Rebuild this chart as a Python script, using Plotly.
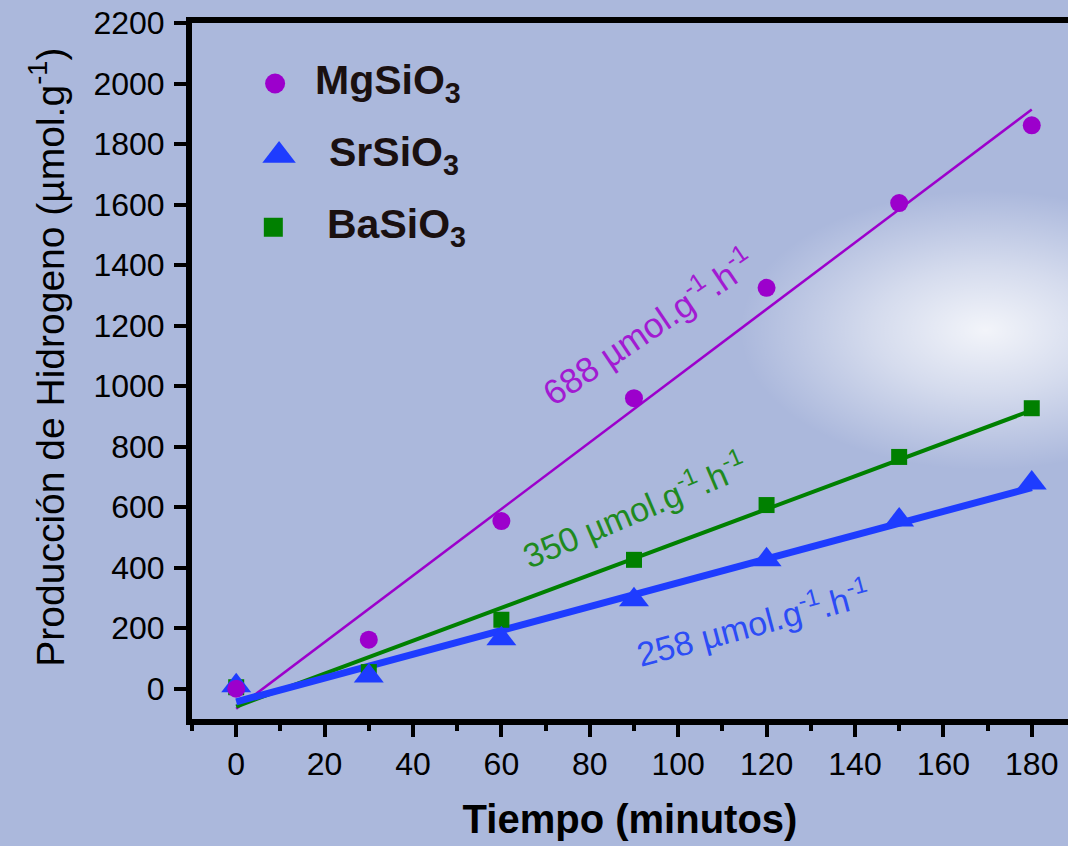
import base64
import numpy as np
import plotly.graph_objects as go

# Reaction time (minutes)
tiempo = [0, 30, 60, 90, 120, 150, 180]

# Accumulated hydrogen (µmol/g) per catalyst
mg_sio3 = [0, 162, 554, 960, 1325, 1605, 1862]
sr_sio3 = [10, 42, 165, 294, 426, 558, 680]
ba_sio3 = [5, 55, 228, 426, 607, 766, 927]

# Stated production rates (µmol g^-1 h^-1)
tasas = {"MgSiO3": 688, "SrSiO3": 258, "BaSiO3": 350}

MG = dict(name="MgSiO<sub>3</sub>", y=mg_sio3, color="#9c00cc", symbol="circle", size=18, lw=2.5)
SR = dict(name="SrSiO<sub>3</sub>", y=sr_sio3, color="#1e3cff", symbol="triangle-up", size=26, lw=7)
BA = dict(name="BaSiO<sub>3</sub>", y=ba_sio3, color="#008000", symbol="square", size=16, lw=4)

BG = "#abb8dc"
FONT = "Liberation Sans, Arial, sans-serif"

fig = go.Figure()

# Linear fits first so that the points sit on top of them
x_arr = np.array(tiempo, dtype=float)
for s in (MG, BA, SR):
    slope, icpt = np.polyfit(x_arr, np.array(s["y"], dtype=float), 1)
    fig.add_trace(go.Scatter(
        x=x_arr, y=slope * x_arr + icpt, mode="lines",
        line=dict(color=s["color"], width=s["lw"]), showlegend=False, hoverinfo="skip"))

# Measured points (Mg drawn last so it stays on top)
for s in (BA, SR, MG):
    fig.add_trace(go.Scatter(
        x=tiempo, y=s["y"], mode="markers", name=s["name"], showlegend=False,
        marker=dict(color=s["color"], symbol=s["symbol"], size=s["size"],
                    opacity=1, line=dict(width=0))))

# Key in the upper-left corner (symbol position in axis units, label position in paper units)
key = [
    (MG, 8.8, 2000, 0.138, 0.914, 20),
    (SR, 9.7, 1762, 0.154, 0.810, 29),
    (BA, 8.4, 1525, 0.152, 0.707, 19),
]
for s, kx, ky, tx, ty, ksize in key:
    fig.add_trace(go.Scatter(
        x=[kx], y=[ky], mode="markers", showlegend=False, hoverinfo="skip",
        marker=dict(color=s["color"], symbol=s["symbol"], size=ksize,
                    opacity=1, line=dict(width=0))))
    fig.add_annotation(xref="paper", yref="paper", x=tx, y=ty, text=s["name"],
                       xanchor="left", yanchor="middle", showarrow=False,
                       font=dict(size=41, color="#1a1010", family=FONT, weight="bold"))

# Rate labels along each fit
def rate_label(v):
    return f"{v} µmol.g<sup>-1</sup>.h<sup>-1</sup>"

fig.add_annotation(x=93, y=1200, text=rate_label(tasas["MgSiO3"]), textangle=-34,
                   font=dict(color="#a21ad2", size=35, family=FONT), showarrow=False)
fig.add_annotation(x=90, y=597, text=rate_label(tasas["BaSiO3"]), textangle=-23,
                   font=dict(color="#1f8a1f", size=34, family=FONT), showarrow=False)
fig.add_annotation(x=117, y=221, text=rate_label(tasas["SrSiO3"]), textangle=-15,
                   font=dict(color="#2c4cf6", size=34, family=FONT), showarrow=False)

# Y axis title
fig.add_annotation(xref="paper", yref="paper", x=-0.166, y=0.52, textangle=-90,
                   text="Producción de Hidrogeno (µmol.g<sup>-1</sup>)", showarrow=False,
                   xanchor="center", yanchor="middle",
                   font=dict(size=39, color="black", family=FONT))

# Soft white glow on the right side of the plotting area
svg = (
    '<svg xmlns="http://www.w3.org/2000/svg" width="490" height="280">'
    '<defs><radialGradient id="g" cx="0.5" cy="0.5" r="0.5">'
    '<stop offset="0" stop-color="#ffffff" stop-opacity="0.85"/>'
    '<stop offset="0.45" stop-color="#ffffff" stop-opacity="0.5"/>'
    '<stop offset="1" stop-color="#ffffff" stop-opacity="0"/>'
    '</radialGradient></defs>'
    '<rect width="490" height="280" fill="url(#g)"/></svg>'
)
glow_src = "data:image/svg+xml;base64," + base64.b64encode(svg.encode()).decode()
fig.add_layout_image(source=glow_src, xref="x", yref="y", x=114, y=1647,
                     sizex=111, sizey=924, xanchor="left", yanchor="top",
                     sizing="stretch", layer="below", opacity=1)

axis_common = dict(
    showgrid=False, zeroline=False, showline=True, linecolor="black", linewidth=6,
    ticks="outside", ticklen=12, tickwidth=4, tickcolor="black",
    tickfont=dict(size=32, color="black", family=FONT),
)

fig.update_xaxes(
    **axis_common, range=[-10, 188.2], tick0=0, dtick=20, mirror=True,
    minor=dict(ticks="outside", ticklen=6, tickwidth=4, tickcolor="black", dtick=10, tick0=0),
    title=dict(text="<b>Tiempo (minutos)</b>", font=dict(size=40, color="black", family=FONT),
               standoff=26),
)
fig.update_yaxes(**axis_common, range=[-100, 2200], tick0=0, dtick=200, ticklabelstandoff=3)

fig.update_layout(
    width=1068, height=846,
    margin=dict(l=192, r=0, t=23, b=127, autoexpand=False),
    paper_bgcolor=BG, plot_bgcolor="rgba(0,0,0,0)",
    font=dict(family=FONT, color="black"),
    showlegend=False,
)

fig.write_html("out.html")
